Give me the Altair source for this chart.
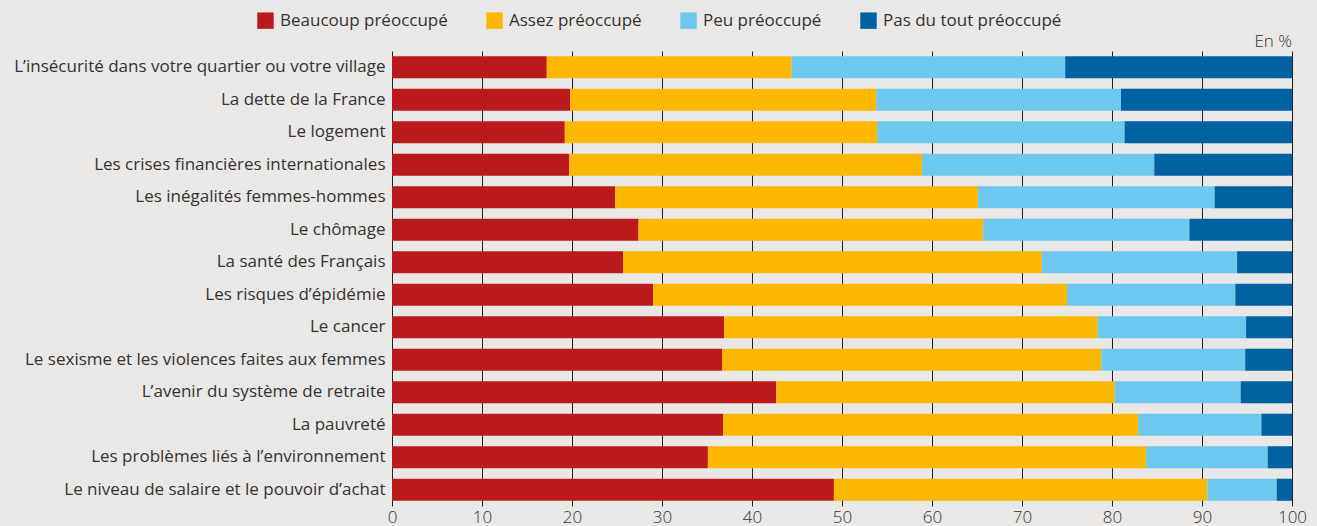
import altair as alt
import pandas as pd

categories = [
    "L’insécurité dans votre quartier ou votre village",
    "La dette de la France",
    "Le logement",
    "Les crises financières internationales",
    "Les inégalités femmes-hommes",
    "Le chômage",
    "La santé des Français",
    "Les risques d’épidémie",
    "Le cancer",
    "Le sexisme et les violences faites aux femmes",
    "L’avenir du système de retraite",
    "La pauvreté",
    "Les problèmes liés à l’environnement",
    "Le niveau de salaire et le pouvoir d’achat",
]
series = ["Beaucoup préoccupé", "Assez préoccupé", "Peu préoccupé", "Pas du tout préoccupé"]
beaucoup = [17.2, 19.8, 19.2, 19.7, 24.8, 27.4, 25.7, 29.0, 36.9, 36.7, 42.7, 36.8, 35.1, 49.1]
assez = [27.2, 34.0, 34.7, 39.2, 40.3, 38.3, 46.5, 46.0, 41.5, 42.1, 37.6, 46.1, 48.7, 41.5]
peu = [30.4, 27.2, 27.5, 25.8, 26.3, 22.9, 21.7, 18.7, 16.5, 16.0, 14.0, 13.7, 13.5, 7.7]
pas = [25.2, 19.0, 18.6, 15.3, 8.6, 11.4, 6.1, 6.3, 5.1, 5.2, 5.7, 3.4, 2.7, 1.7]
colors = ["#BB1A1C", "#FCB700", "#6CC8EE", "#0062A0"]
x_ticks = [0, 10, 20, 30, 40, 50, 60, 70, 80, 90, 100]

rows = []
for i, c in enumerate(categories):
    for j, (s, vals) in enumerate(zip(series, [beaucoup, assez, peu, pas])):
        rows.append({"cat": c, "serie": s, "ord": j, "val": vals[i]})
df = pd.DataFrame(rows)

FONT = "Open Sans"
TXT = "#333333"

bars = alt.Chart(df).mark_bar().encode(
    y=alt.Y("cat:N", sort=categories, title=None,
            scale=alt.Scale(paddingInner=0.32, paddingOuter=0.16),
            axis=alt.Axis(domain=False, ticks=False, labelPadding=7, labelFontSize=17,
                          labelColor=TXT, labelFont=FONT, labelFontWeight="normal",
                          labelLimit=420, grid=False)),
    x=alt.X("val:Q", stack="zero", title=None,
            scale=alt.Scale(domain=[0, 100], nice=False),
            axis=alt.Axis(values=x_ticks, domain=False, ticks=False, grid=True,
                          gridColor="#222222", gridWidth=1, gridOpacity=1,
                          labelFontSize=17, labelColor=TXT, labelFont=FONT,
                          labelFontWeight=300, labelPadding=3, labelFlush=False)),
    color=alt.Color("serie:N", sort=series,
                    scale=alt.Scale(domain=series, range=colors),
                    legend=alt.Legend(title=None, orient="none", legendX=-135, legendY=-39,
                                      direction="horizontal", symbolType="square",
                                      symbolSize=270, symbolStrokeWidth=0, symbolOpacity=1,
                                      labelFontSize=17, labelColor=TXT, labelFont=FONT,
                                      labelFontWeight="normal", labelLimit=400,
                                      columnPadding=38, labelOffset=6)),
    order=alt.Order("ord:Q"),
)

en = alt.Chart(pd.DataFrame({"t": ["En %"]})).mark_text(
    align="right", baseline="alphabetic", fontSize=17, font=FONT, fontWeight=300, color=TXT
).encode(text="t:N", x=alt.value(900), y=alt.value(-4))

chart = alt.layer(bars, en).properties(
    width=900, height=455,
    autosize=alt.AutoSizeParams(type="none"),
    padding={"left": 392, "top": 51, "right": 25, "bottom": 20},
    background="#E9E8E6",
).configure_view(stroke=None)

chart.save("out.html", embed_options={"renderer": "svg", "actions": False})
